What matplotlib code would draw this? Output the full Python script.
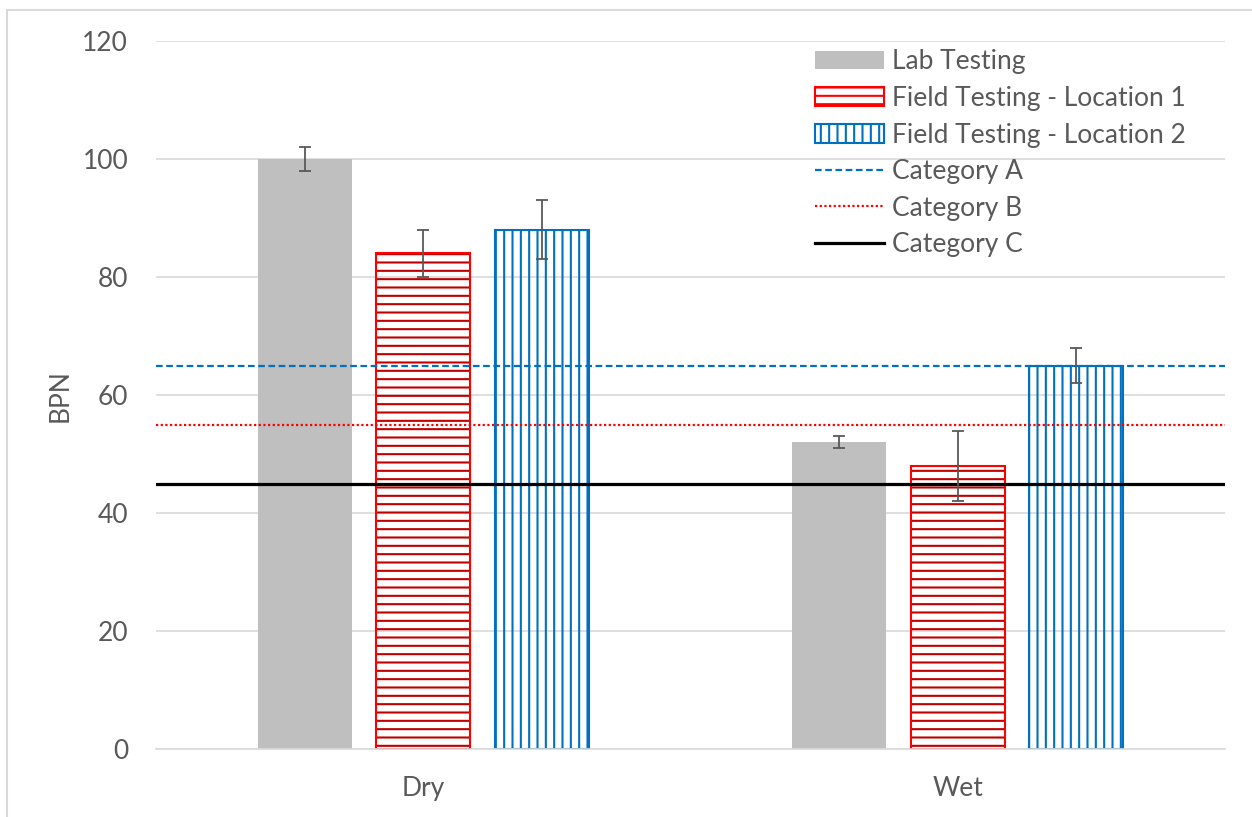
import matplotlib
matplotlib.use("Agg")
import matplotlib.pyplot as plt
import numpy as np
from matplotlib.patches import Patch, Rectangle
from matplotlib.lines import Line2D

categories = ["Dry", "Wet"]
series_names = ["Lab Testing", "Field Testing - Location 1", "Field Testing - Location 2"]
lab_values = [100, 52]
lab_errors = [2, 1]
loc1_values = [84, 48]
loc1_errors = [4, 6]
loc2_values = [88, 65]
loc2_errors = [5, 3]
threshold_names = ["Category A", "Category B", "Category C"]
threshold_values = [65, 55, 45]
yticks = [0, 20, 40, 60, 80, 100, 120]

plt.rcParams['font.family'] = ['Lato', 'DejaVu Sans']
plt.rcParams['hatch.linewidth'] = 1.5
TXT = '#595959'
FS = 19

fig = plt.figure(figsize=(12.52, 8.17), dpi=100)
ax = fig.add_axes([156/1252, 1-749.3/817, (1225-156)/1252, (749.3-41)/817])

x = np.arange(len(categories))
w = 0.176
off = 0.2215

# Lab
ax.bar(x - off, lab_values, w, color='#BFBFBF', zorder=2)
# Location 1
ax.bar(x, loc1_values, w, fill=False, hatch='--', edgecolor='#C00000', linewidth=0, zorder=2)
ax.bar(x, loc1_values, w, fill=False, edgecolor='#FF0000', linewidth=1.5, zorder=2)
# Location 2
ax.bar(x + off, loc2_values, w, fill=False, hatch='||', edgecolor='#0070C0', linewidth=0, zorder=2)
ax.bar(x + off, loc2_values, w, fill=False, edgecolor='#0070C0', linewidth=1.5, zorder=2)

ax.axhline(threshold_values[0], color='#0070C0', lw=1.6, ls=(0, (3, 1.6)), zorder=3)
ax.axhline(threshold_values[1], color='#FF0000', lw=1.6, ls=(0, (1, 1.1)), zorder=3)
ax.axhline(threshold_values[2], color='black', lw=2.3, ls='-', zorder=3)

ekw = dict(fmt='none', ecolor='#595959', elinewidth=1.3, capsize=4.3, capthick=1.3, zorder=4)
ax.errorbar(x - off, lab_values, yerr=lab_errors, **ekw)
ax.errorbar(x, loc1_values, yerr=loc1_errors, **ekw)
ax.errorbar(x + off, loc2_values, yerr=loc2_errors, **ekw)

ax.set_xlim(-0.5, 1.5)
ax.set_ylim(0, 120)
ax.set_yticks(yticks)
ax.set_xticks(x)
ax.set_xticklabels(categories)
ax.grid(axis='y', color='#D9D9D9', lw=1.2, zorder=0)
ax.set_axisbelow(True)
for s in ['top', 'right', 'left']:
    ax.spines[s].set_visible(False)
ax.spines['bottom'].set_color('#D9D9D9')
ax.spines['bottom'].set_linewidth(1.2)
ax.tick_params(axis='both', length=0, labelsize=FS, labelcolor=TXT)
ax.tick_params(axis='y', pad=20)
ax.tick_params(axis='x', pad=19)
ax.set_ylabel('BPN', fontsize=FS, color=TXT, labelpad=7)

handles = [
    Patch(facecolor='#BFBFBF', edgecolor='none'),
    Patch(facecolor='white', edgecolor='#FF0000', hatch='--', linewidth=1.5),
    Patch(facecolor='white', edgecolor='#0070C0', hatch='||', linewidth=1.5),
    Line2D([], [], color='#0070C0', lw=1.6, ls=(0, (3, 1.6))),
    Line2D([], [], color='#FF0000', lw=1.6, ls=(0, (1, 1.1))),
    Line2D([], [], color='black', lw=2.3),
]
leg = ax.legend(handles, series_names + threshold_names, loc='upper left',
                bbox_to_anchor=(810/1252, 1-44/817), bbox_transform=fig.transFigure,
                frameon=False, fontsize=FS, handlelength=2.6, handleheight=0.72,
                handletextpad=0.3, labelspacing=0.44, borderaxespad=0, borderpad=0.2)
for t in leg.get_texts():
    t.set_color(TXT)

fig.patches.append(Rectangle((7/1252, -0.1), 2, 1 - 10/817 + 0.1, transform=fig.transFigure,
                             fill=False, edgecolor='#D9D9D9', lw=1.5))

fig.savefig('out.png', dpi=100)
